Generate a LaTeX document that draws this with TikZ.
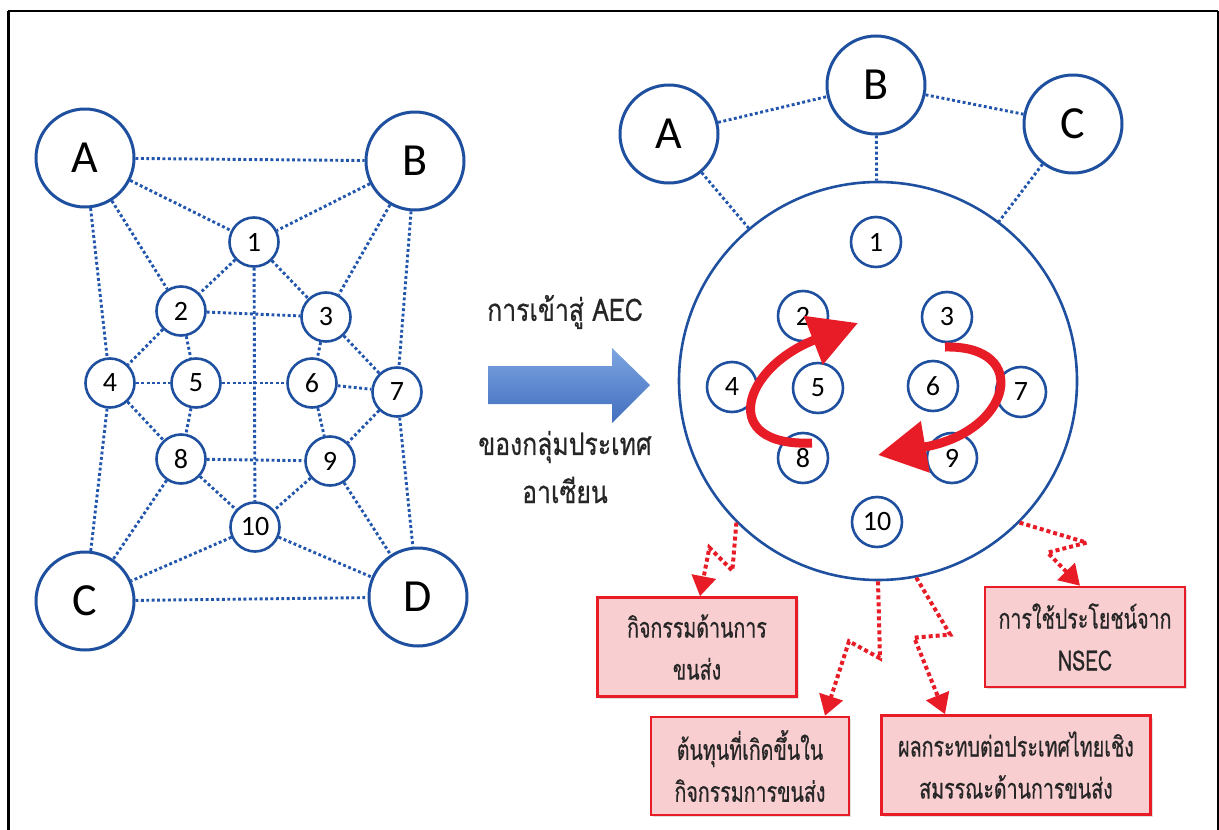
\documentclass[tikz,border=0pt]{standalone}
\usepackage{fontspec}
\setmainfont{Carlito}
\newfontfamily\thaibox[Script=Thai,FakeStretch=0.7,FakeBold=0.5]{Loma}
\newfontfamily\thaimid[Script=Thai,FakeStretch=0.8,FakeBold=0.5]{Loma}
\usetikzlibrary{arrows.meta,shadows}
\definecolor{ringblue}{RGB}{31,80,160}
\definecolor{dotblue}{RGB}{34,86,172}
\definecolor{hotred}{RGB}{232,28,38}
\definecolor{boxpink}{RGB}{248,206,208}
\definecolor{arrtop}{RGB}{125,165,225}
\definecolor{arrbot}{RGB}{65,110,190}

\begin{document}
\begin{tikzpicture}[x=1pt,y=-1pt,
    bigc/.style={circle,draw=ringblue,line width=3pt,fill=white,minimum size=98pt,inner sep=0pt,font=\fontsize{46}{46}\selectfont},
    numc/.style={circle,draw=ringblue,line width=2.6pt,fill=white,minimum size=49pt,inner sep=0pt,font=\fontsize{28}{28}\selectfont},
    dotline/.style={dotblue,line width=2.9pt,dash pattern=on 2.9pt off 2.5pt},
    redlink/.style={hotred,line width=4pt,dash pattern=on 4pt off 3pt,-{Triangle[length=20pt,width=24pt]}},
    swirl/.style={hotred,line width=9pt,-{Triangle[length=48pt,width=50pt]}},
    midtext/.style={font=\thaimid\fontsize{31}{31}\selectfont,text=black!85},
    infobox/.style={rectangle,draw=hotred,line width=2.6pt,fill=boxpink,align=center,
        drop shadow={opacity=0.25,shadow xshift=2pt,shadow yshift=-2pt},
        font=\thaibox\fontsize{28}{42}\selectfont,text=black!85}]
    \useasboundingbox (0,0) rectangle (1219,830);
    % frame
    \draw[line width=3pt] (8,830) -- (8,11);
    \draw[line width=2.4pt] (8,11) -- (1218,11);
    \draw[line width=1.4pt] (1218,11) -- (1218,830);
    %% left network
    \node[bigc] (lA) at (85,158) {A};
    \node[bigc] (lB) at (415,161) {B};
    \node[bigc] (lC) at (85,601) {C};
    \node[bigc] (lD) at (418,597) {D};
    \foreach \n/\x/\y in {1/254/242,2/181/311,3/326/317,4/110/383,5/196/383,
        6/312/383,7/397/392,8/181/459,9/330/461,10/255/527}
        \node[numc] (l\n) at (\x,\y) {\n};
    \foreach \a/\b in {lA/lB,lA/l1,lA/l2,lA/l4,lB/l1,lB/l3,lB/l7,l1/l2,l1/l3,l1/l10,
        l2/l3,l2/l4,l2/l5,l3/l6,l3/l7,l4/l5,l5/l6,l6/l7,l4/l8,l5/l8,l4/lC,l6/l9,l7/l9,
        l7/lD,l8/l9,l8/l10,l9/l10,l8/lC,l10/lC,l10/lD,l9/lD,lC/lD}
        \draw[dotline] (\a) -- (\b);
    %
    \shade[top color=arrtop,bottom color=arrbot]
        (488,366) -- (612,366) -- (612,348) -- (650,385) -- (612,423) -- (612,404) -- (488,404) -- cycle;
    \node[midtext] (t1) at (565,312) {การเข้าสู่ AEC};
    \node[midtext] (t2) at (565,447) {ของกลุ่มประเทศ};
    \node[midtext] (t3) at (565,490) {อาเซียน};
    %% right side
    \node[circle,draw=ringblue,line width=2.6pt,minimum size=398pt,inner sep=0pt] (aec) at (878,381) {};
    \node[bigc] (rA) at (669,134) {A};
    \node[bigc] (rB) at (876,85) {B};
    \node[bigc] (rC) at (1073,124) {C};
    \draw[dotline] (rA) -- (rB);
    \draw[dotline] (rB) -- (rC);
    \draw[dotline] (rA) -- (aec);
    \draw[dotline] (rB) -- (aec);
    \draw[dotline] (rC) -- (aec);
    \foreach \n/\x/\y in {1/876/242,2/803/316,3/947/317,4/732/387,5/818/388,
        6/933/386,7/1021/392,8/803/458,9/952/458,10/877/522}
        \node[numc,minimum size=50pt] (r\n) at (\x,\y) {\n};
    \draw[swirl] (812,443) .. controls (718,447) and (742,368) .. (858,323);
    \draw[swirl] (945,347) .. controls (1032,345) and (1012,432) .. (878,455);
    %
    \node[infobox,minimum width=199pt,minimum height=99pt] (b1) at (697,647) {กิจกรรมด้านการ\\ขนส่ง};
    \node[infobox,minimum width=198pt,minimum height=98pt] (b2) at (750,766) {ต้นทุนที่เกิดขึ้นใน\\กิจกรรมการขนส่ง};
    \node[infobox,minimum width=269pt,minimum height=99pt] (b3) at (1016,765) {ผลกระทบต่อประเทศไทยเชิง\\สมรรณะด้านการขนส่ง};
    \node[infobox,minimum width=200pt,minimum height=100pt] (b4) at (1085,637) {การใช้ประโยชน์จาก\\NSEC};
    \draw[redlink] (aec.225) -- ++(-4,48) -- ++(-23,-23) -- ([xshift=3pt]b1.north);
    \draw[redlink] (aec.south) -- ++(2,77) -- ++(-31,-17) -- ([xshift=75pt]b2.north);
    \draw[redlink] (aec.281) -- ++(34,57) -- ++(-36,3) -- ([xshift=-71pt]b3.north);
    \draw[redlink] (aec.315) -- ++(67,20) -- ++(-39,10) -- ([xshift=-5pt]b4.north);
\end{tikzpicture}
\end{document}
